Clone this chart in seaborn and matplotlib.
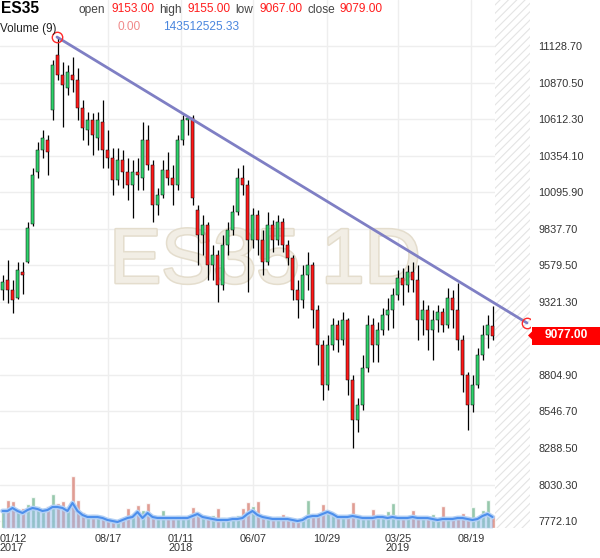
import numpy as np
import pandas as pd
import matplotlib
matplotlib.use("Agg")
import matplotlib.pyplot as plt
import matplotlib.patheffects as pe
from matplotlib.patches import Rectangle, Polygon
import seaborn as sns

# ---------------- data (weekly-ish candles) ----------------
open_ = [9405, 9475, 9405, 9348, 9532, 9603, 9871, 10238, 10394, 10465,
         10677, 11065, 10924, 10832, 10924, 10888, 10691, 10535, 10606, 10479,
         10592, 10394, 10337, 10182, 10323, 10238, 10147, 10238, 10196, 10465,
         10288, 10005, 10076, 10253, 10196, 10147, 10465, 10606, 10620, 9970,
         9793, 9864, 9581, 9652, 9440, 9723, 9829, 9956, 10196, 10147,
         9758, 9935, 9758, 9603, 9864, 9758, 9885, 9723, 9631, 9405,
         9334, 9511, 9581, 9263, 9016, 8734, 9016, 9157, 9051, 9193,
         8769, 8486, 8592, 8854, 9157, 9016, 9122, 9228, 9263, 9370,
         9490, 9440, 9532, 9475, 9193, 9263, 9122, 9193, 9249, 9157,
         9348, 9263, 9051, 8804, 8592, 8734, 8946, 9087, 9153]
high = [9511, 9617, 9475, 9603, 9603, 9885, 10267, 10450, 10535, 10500,
        11030, 11190, 11016, 10995, 11051, 10973, 10747, 10662, 10655, 10662,
        10747, 10535, 10408, 10408, 10394, 10337, 10323, 10337, 10592, 10571,
        10323, 10125, 10323, 10380, 10288, 10500, 10641, 10634, 10641, 10005,
        9935, 9885, 9723, 9687, 9793, 9885, 10005, 10267, 10288, 10182,
        9984, 9970, 9829, 9956, 9899, 9935, 9913, 9758, 9652, 9475,
        9581, 9673, 9603, 9299, 9051, 9087, 9207, 9193, 9249, 9207,
        8804, 8642, 8946, 9228, 9207, 9179, 9278, 9348, 9419, 9546,
        9560, 9581, 9603, 9581, 9334, 9299, 9263, 9299, 9278, 9419,
        9405, 9454, 9087, 8826, 8804, 8995, 9157, 9228, 9292]
low = [9334, 9313, 9242, 9340, 9377, 9595, 9857, 10196, 10337, 10217,
       10606, 10888, 10556, 10783, 10804, 10606, 10465, 10429, 10359, 10394,
       10267, 10267, 10076, 10147, 10125, 10041, 9913, 10111, 10111, 10253,
       9885, 9935, 10055, 10147, 10005, 10111, 10429, 10500, 10005, 9581,
       9652, 9475, 9475, 9320, 9405, 9652, 9793, 9935, 10076, 9391,
       9702, 9652, 9511, 9581, 9673, 9723, 9673, 9581, 9334, 9207,
       9278, 9405, 9136, 8875, 8628, 8698, 8981, 8967, 9016, 8663,
       8289, 8402, 8557, 8826, 8896, 8896, 9087, 9122, 9136, 9334,
       9299, 9391, 9391, 9051, 9087, 8981, 8910, 9108, 9108, 9136,
       9136, 8981, 8684, 8416, 8543, 8713, 8910, 8995, 9051]
close = [9461, 9405, 9334, 9546, 9511, 9843, 10217, 10394, 10479, 10380,
         10995, 10924, 10853, 10945, 10888, 10691, 10549, 10606, 10500, 10606,
         10394, 10337, 10182, 10323, 10238, 10147, 10238, 10217, 10465, 10288,
         10005, 10076, 10253, 10196, 10147, 10465, 10606, 10620, 10055, 9793,
         9864, 9581, 9652, 9440, 9723, 9829, 9956, 10196, 10147, 9758,
         9935, 9758, 9603, 9864, 9758, 9885, 9723, 9631, 9405, 9334,
         9511, 9581, 9263, 9016, 8734, 9016, 9157, 9051, 9193, 8769,
         8486, 8592, 8854, 9157, 9016, 9122, 9228, 9263, 9370, 9490,
         9440, 9532, 9475, 9193, 9263, 9122, 9193, 9249, 9157, 9348,
         9263, 9051, 8804, 8592, 8734, 8946, 9087, 9157, 9079]
volume_m = [252, 392, 378, 224, 280, 336, 434, 308, 280, 308,
            476, 350, 378, 308, 728, 392, 224, 182, 196, 168,
            140, 126, 112, 98, 126, 280, 196, 322, 252, 350,
            168, 154, 252, 168, 140, 182, 154, 168, 294, 224,
            168, 140, 182, 280, 154, 126, 140, 182, 280, 364,
            308, 378, 168, 154, 140, 168, 196, 154, 140, 126,
            140, 392, 196, 210, 336, 224, 196, 168, 154, 182,
            364, 196, 154, 168, 266, 168, 154, 238, 350, 168,
            154, 168, 252, 154, 140, 154, 196, 140, 308, 154,
            140, 154, 210, 168, 294, 154, 252, 392, 182]
volume_ma_m = [238, 238, 280, 238, 210, 252, 280, 266, 238, 252,
               294, 294, 280, 238, 350, 238, 182, 154, 154, 154,
               140, 112, 98, 84, 112, 140, 154, 224, 140, 210,
               154, 140, 140, 140, 140, 140, 140, 140, 168, 196,
               154, 140, 126, 112, 112, 112, 126, 126, 140, 196,
               238, 182, 154, 140, 126, 126, 126, 126, 112, 98,
               112, 154, 168, 168, 196, 224, 196, 154, 154, 154,
               168, 154, 140, 140, 140, 154, 154, 140, 154, 140,
               140, 140, 154, 140, 140, 140, 126, 112, 126, 126,
               126, 140, 140, 126, 112, 126, 168, 196, 154]

x_tick_pos = [-0.5, 21.1, 35.7, 50.1, 64.9, 79.1, 93.7]
x_tick_labels = ["01/12\n2017", "08/17", "01/11\n2018", "06/07", "10/29", "03/25\n2019", "08/19"]
y_tick_vals = [11128.70, 10870.50, 10612.30, 10354.10, 10095.90, 9837.70, 9579.50,
               9321.30, 9063.10, 8804.90, 8546.70, 8288.50, 8030.30, 7772.10]
y_tick_labels = ["11128.70", "10870.50", "10612.30", "10354.10", "10095.90", "9837.70",
                 "9579.50", "9321.30", "", "8804.90", "8546.70", "8288.50", "8030.30", "7772.10"]
trend_x = [10.9, 104.9]
trend_y = [11192, 9172]
last_price = "9077.00"
symbol = "ES35"
ohlc_names = ["open", "high", "low", "close"]
ohlc_vals = ["9153.00", "9155.00", "9067.00", "9079.00"]
vol_title = "Volume (9)"
vol_vals = ["0.00", "143512525.33"]
watermark = "ES35 1D"

# ---------------- style ----------------
sns.set_style("white")
plt.rcParams['font.family'] = ['Liberation Sans', 'DejaVu Sans']
plt.rcParams['hatch.linewidth'] = 0.8

W, H = 600, 558
fig = plt.figure(figsize=(W / 100, H / 100), dpi=100)
fig.patch.set_facecolor("white")
ax = fig.add_axes([0, 30 / H, 530 / W, 528 / H])

df = pd.DataFrame({"o": open_, "h": high, "l": low, "c": close,
                   "v": volume_m, "vma": volume_ma_m})
df["i"] = np.arange(len(df))
df["up"] = df["c"] >= df["o"]

ax.set_xlim(-0.5, 105.5)
ax.set_ylim(7723.4, 11453.7)

# grid
for yv in y_tick_vals:
    ax.axhline(yv, color="#eeeeee", lw=1, zorder=0)
for xv in x_tick_pos[1:]:
    ax.axvline(xv, color="#eeeeee", lw=1, zorder=0)

# hatched future area
ax.axvspan(98.5, 105.5, facecolor="white", edgecolor="#e4e4e4", hatch="////", lw=0, zorder=0.6)

# watermark
ax.text(52.5, 9600, watermark, fontsize=56, color="#f2eee5", ha="center", va="center",
        zorder=0.5, path_effects=[pe.withStroke(linewidth=2.2, foreground="#e4ddcd")])

# candles
ax.vlines(df["i"], df["l"], df["h"], color="black", lw=0.9, zorder=3)
body_bottom = np.minimum(df["o"], df["c"])
body_h = np.maximum(np.abs(df["c"] - df["o"]), 8)
colors = np.where(df["up"], "#2fd36b", "#ff1a1a")
ax.bar(df["i"], body_h, bottom=body_bottom, width=0.55, color=colors,
       edgecolor="black", linewidth=0.35, zorder=4)

# trend line with end circles
sns.lineplot(x=trend_x, y=trend_y, ax=ax, color="#7f7fc4", lw=2, zorder=5)
ax.plot(trend_x, trend_y, ls="none", marker="o", ms=7.5, mfc="none", mec="#ff2a2a",
        mew=1, zorder=6)

# axes cosmetics
for s in ax.spines.values():
    s.set_visible(False)
ax.yaxis.tick_right()
ax.set_yticks(y_tick_vals, y_tick_labels)
ax.set_xticks(x_tick_pos, x_tick_labels)
ax.tick_params(axis="y", length=0, pad=6, labelsize=7.8, labelcolor="#333333")
ax.tick_params(axis="x", length=0, pad=4, labelsize=7.8, labelcolor="#333333")
for t in ax.get_xticklabels():
    t.set_linespacing(0.95)
ax.get_xticklabels()[0].set_ha("left")
ax.set_xlabel("")
ax.set_ylabel("")

# volume overlay
ax2 = fig.add_axes([0, 30 / H, 530 / W, 528 / H], sharex=ax)
ax2.axis("off")
vcolors = np.where(df["up"], "#7dbb98", "#d9857a")
ax2.bar(df["i"], df["v"], width=0.8, color=vcolors, alpha=0.8, zorder=1)
ax2.fill_between(df["i"], df["vma"], color="#8fbaf0", alpha=0.45, zorder=2, lw=0)
sns.lineplot(x=df["i"], y=df["vma"], ax=ax2, color="#b3d0f5", lw=3.5, zorder=3)
sns.lineplot(x=df["i"], y=df["vma"], ax=ax2, color="#4d8fec", lw=1.5, zorder=4)
ax2.set_xlim(-0.5, 105.5)
ax2.set_ylim(0, 528 * 14)
ax2.axis("off")

# last price tag
fy = lambda y: 1 - y / H
fx = lambda x: x / W
fig.patches.append(Rectangle((fx(532), fy(344.5)), fx(68), 17.5 / H, transform=fig.transFigure,
                             facecolor="#ff0000", edgecolor="none", zorder=5))
fig.patches.append(Polygon([(fx(528), fy(335.5)), (fx(533), fy(330.5)), (fx(533), fy(340.5))],
                           closed=True, transform=fig.transFigure, facecolor="#ff0000",
                           edgecolor="none", zorder=5))
fig.text(fx(566), fy(335.5), last_price, color="white", fontweight="bold", fontsize=8.6,
         ha="center", va="center", zorder=6)

# header
fig.text(fx(1), fy(8.5), symbol, fontsize=11.2, fontweight="bold", color="black",
         ha="left", va="center", zorder=7)
label_x = [79, 159, 235, 308]
value_x = [112, 188, 259, 340]
for name, val, lx, vx in zip(ohlc_names, ohlc_vals, label_x, value_x):
    fig.text(fx(lx), fy(10), name, fontsize=8.6, color="#444444", ha="left", va="center", zorder=7)
    fig.text(fx(vx), fy(8.5), val, fontsize=8.6, color="#ff1c1c", ha="left", va="center", zorder=7)
fig.text(fx(0), fy(29), vol_title, fontsize=8.4, color="#222222", ha="left", va="center", zorder=7)
fig.text(fx(117), fy(27.5), vol_vals[0], fontsize=8.6, color="#f08a8a", ha="left", va="center", zorder=7)
fig.text(fx(163), fy(27.5), vol_vals[1], fontsize=8.6, color="#4a86de", ha="left", va="center", zorder=7)

fig.savefig("out.png", dpi=100)
